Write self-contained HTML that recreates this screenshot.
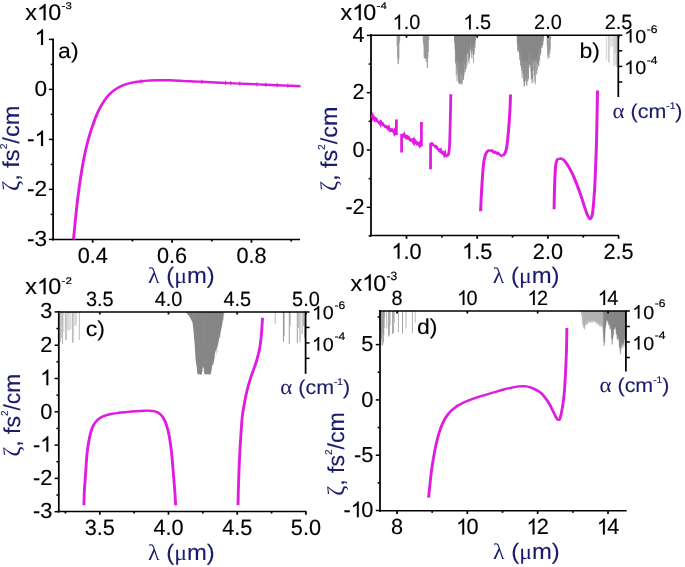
<!DOCTYPE html>
<html><head><meta charset="utf-8"><title>Figure</title>
<style>
html,body{margin:0;padding:0;background:#fff;}
body{width:685px;height:567px;overflow:hidden;font-family:"Liberation Sans",sans-serif;}
svg{display:block;opacity:0.999;will-change:transform;}
text{text-rendering:geometricPrecision;}
</style></head><body>
<svg width="685" height="567" viewBox="0 0 685 567">
<defs><filter id="soft" x="0" y="0" width="685" height="567" filterUnits="userSpaceOnUse"><feGaussianBlur stdDeviation="0.33"/></filter><linearGradient id="gd" gradientUnits="userSpaceOnUse" x1="581" x2="626.4" y1="0" y2="0"><stop offset="0" stop-color="#bcbcbc"/><stop offset="0.47" stop-color="#b2b2b2"/><stop offset="0.52" stop-color="#8c8c8c"/><stop offset="1" stop-color="#858585"/></linearGradient></defs>
<rect width="685" height="567" fill="#fff"/>
<g filter="url(#soft)">
<line x1="53.10" y1="38.40" x2="53.10" y2="240.50" stroke="#000" stroke-width="1.75"/>
<line x1="52.10" y1="239.50" x2="300.00" y2="239.50" stroke="#000" stroke-width="1.5"/>
<line x1="48.90" y1="39.40" x2="53.10" y2="39.40" stroke="#000" stroke-width="1.5"/>
<path transform="translate(34.59,44.90) scale(0.01107,-0.01064)" d="M763 0 H583 V1147 Q518 1085 412.5 1023 Q307 961 223 930 V1104 Q374 1175 487 1276 Q600 1377 647 1472 H763 Z" fill="#000" stroke="#000" stroke-width="14.1"/>
<line x1="48.90" y1="89.40" x2="53.10" y2="89.40" stroke="#000" stroke-width="1.5"/>
<text transform="translate(34.59,96.10) scale(1.04,1)" font-family="'Liberation Sans', sans-serif" font-size="21.8" fill="#000" stroke="#000" stroke-width="0.15">0</text>
<line x1="48.90" y1="139.40" x2="53.10" y2="139.40" stroke="#000" stroke-width="1.5"/>
<text transform="translate(27.04,146.10) scale(1.04,1)" font-family="'Liberation Sans', sans-serif" font-size="21.8" fill="#000" stroke="#000" stroke-width="0.15">-</text>
<path transform="translate(34.59,146.10) scale(0.01107,-0.01064)" d="M763 0 H583 V1147 Q518 1085 412.5 1023 Q307 961 223 930 V1104 Q374 1175 487 1276 Q600 1377 647 1472 H763 Z" fill="#000" stroke="#000" stroke-width="14.1"/>
<line x1="48.90" y1="189.40" x2="53.10" y2="189.40" stroke="#000" stroke-width="1.5"/>
<text transform="translate(27.04,196.10) scale(1.04,1)" font-family="'Liberation Sans', sans-serif" font-size="21.8" fill="#000" stroke="#000" stroke-width="0.15">-2</text>
<line x1="48.90" y1="239.40" x2="53.10" y2="239.40" stroke="#000" stroke-width="1.5"/>
<text transform="translate(27.04,246.10) scale(1.04,1)" font-family="'Liberation Sans', sans-serif" font-size="21.8" fill="#000" stroke="#000" stroke-width="0.15">-3</text>
<line x1="50.70" y1="64.40" x2="53.10" y2="64.40" stroke="#000" stroke-width="1.5"/>
<line x1="50.70" y1="114.40" x2="53.10" y2="114.40" stroke="#000" stroke-width="1.5"/>
<line x1="50.70" y1="164.40" x2="53.10" y2="164.40" stroke="#000" stroke-width="1.5"/>
<line x1="50.70" y1="214.40" x2="53.10" y2="214.40" stroke="#000" stroke-width="1.5"/>
<line x1="92.70" y1="239.50" x2="92.70" y2="242.70" stroke="#000" stroke-width="1.75"/>
<text transform="translate(77.64,262.50) scale(0.985,1)" font-family="'Liberation Sans', sans-serif" font-size="22.0" fill="#000" stroke="#000" stroke-width="0.15">0.4</text>
<line x1="172.10" y1="239.50" x2="172.10" y2="242.70" stroke="#000" stroke-width="1.75"/>
<text transform="translate(157.04,262.50) scale(0.985,1)" font-family="'Liberation Sans', sans-serif" font-size="22.0" fill="#000" stroke="#000" stroke-width="0.15">0.6</text>
<line x1="251.50" y1="239.50" x2="251.50" y2="242.70" stroke="#000" stroke-width="1.75"/>
<text transform="translate(236.44,262.50) scale(0.985,1)" font-family="'Liberation Sans', sans-serif" font-size="22.0" fill="#000" stroke="#000" stroke-width="0.15">0.8</text>
<line x1="132.40" y1="239.50" x2="132.40" y2="241.50" stroke="#000" stroke-width="1.75"/>
<line x1="211.80" y1="239.50" x2="211.80" y2="241.50" stroke="#000" stroke-width="1.75"/>
<line x1="291.20" y1="239.50" x2="291.20" y2="241.50" stroke="#000" stroke-width="1.75"/>
<text transform="translate(25.30,20.20) scale(1.03,1)" font-family="'Liberation Sans', sans-serif" font-size="22.6" fill="#000" stroke="#000" stroke-width="0.15">x</text>
<path transform="translate(36.94,20.20) scale(0.01137,-0.01104)" d="M763 0 H583 V1147 Q518 1085 412.5 1023 Q307 961 223 930 V1104 Q374 1175 487 1276 Q600 1377 647 1472 H763 Z" fill="#000" stroke="#000" stroke-width="13.6"/>
<text transform="translate(48.14,20.20) scale(1.03,1)" font-family="'Liberation Sans', sans-serif" font-size="22.6" fill="#000" stroke="#000" stroke-width="0.15">0</text>
<text transform="translate(61.60,9.20) scale(1.2,1)" font-family="'Liberation Sans', sans-serif" font-size="9.5" fill="#000" stroke="#000" stroke-width="0.2">-3</text>
<text transform="translate(58.10,57.50) scale(1.07,1)" font-family="'Liberation Sans', sans-serif" font-size="21.5" text-anchor="start" fill="#000" stroke="#000" stroke-width="0.12">a)</text>
<text transform="translate(18.80,191.00) rotate(-90) scale(1.026,1)" font-family="'Liberation Sans', sans-serif" font-size="23" text-anchor="start" fill="#1a1a6c" stroke="#1a1a6c" stroke-width="0.12"><tspan font-family="'Liberation Serif', serif" stroke="none" font-size="24">ζ</tspan>, fs<tspan font-size="10" dy="-12">2</tspan><tspan dy="12">/cm</tspan></text>
<text transform="translate(148.00,283.00) scale(1.06,1)" font-family="'Liberation Sans', sans-serif" font-size="22.5" text-anchor="start" fill="#1a1a6c" stroke="#1a1a6c" stroke-width="0.12"><tspan font-family="'Liberation Serif', serif" stroke="none">λ</tspan> (<tspan font-family="'Liberation Serif', serif" stroke="none">μ</tspan>m)</text>
<path transform="scale(1.2,1)" d="M61.25,239.3 C61.51,236.1 62.28,226.5 62.83,220.0 C63.39,213.5 63.86,207.4 64.58,200.3 C65.31,193.2 66.26,184.6 67.17,177.5 C68.07,170.4 68.99,164.0 70.00,157.9 C71.01,151.8 72.11,146.2 73.25,141.0 C74.39,135.8 75.68,131.1 76.83,126.9 C77.99,122.7 79.04,119.3 80.17,116.0 C81.29,112.7 82.39,110.0 83.58,107.3 C84.78,104.6 86.06,102.2 87.33,100.0 C88.61,97.8 89.79,96.1 91.25,94.3 C92.71,92.5 94.32,90.9 96.08,89.4 C97.85,88.0 99.65,86.7 101.83,85.6 C104.01,84.5 106.47,83.6 109.17,82.9 C111.86,82.2 115.36,81.6 118.00,81.2 C120.64,80.8 122.74,80.7 125.00,80.5 C127.26,80.3 128.81,80.2 131.58,80.2 C134.36,80.2 138.60,80.2 141.67,80.3 C144.74,80.4 147.22,80.6 150.00,80.8 C152.78,81.0 155.31,81.1 158.33,81.3 C161.36,81.5 164.00,81.6 168.17,81.8 C172.33,82.0 178.06,82.4 183.33,82.7 C188.61,83.0 194.56,83.3 199.83,83.6 C205.11,83.9 209.74,84.1 215.00,84.4 C220.26,84.7 226.97,85.0 231.42,85.2 C235.86,85.4 238.50,85.6 241.67,85.8 C244.83,86.0 248.96,86.1 250.42,86.2" fill="none" stroke="#DF1ADF" stroke-width="2.39" stroke-linejoin="round"/>
<line x1="141.00" y1="79.10" x2="141.00" y2="83.50" stroke="#DF1ADF" stroke-width="0.9"/>
<line x1="201.80" y1="79.60" x2="201.80" y2="84.00" stroke="#DF1ADF" stroke-width="0.9"/>
<line x1="225.50" y1="80.75" x2="225.50" y2="85.15" stroke="#DF1ADF" stroke-width="0.9"/>
<line x1="230.90" y1="81.00" x2="230.90" y2="85.40" stroke="#DF1ADF" stroke-width="0.9"/>
<line x1="239.80" y1="81.40" x2="239.80" y2="85.80" stroke="#DF1ADF" stroke-width="0.9"/>
<line x1="256.90" y1="82.15" x2="256.90" y2="86.55" stroke="#DF1ADF" stroke-width="0.9"/>
<line x1="265.80" y1="82.52" x2="265.80" y2="86.92" stroke="#DF1ADF" stroke-width="0.9"/>
<line x1="277.20" y1="82.98" x2="277.20" y2="87.38" stroke="#DF1ADF" stroke-width="0.9"/>
<line x1="287.80" y1="83.49" x2="287.80" y2="87.89" stroke="#DF1ADF" stroke-width="0.9"/>
<path d="M397.00,35.2V46.0M397.40,35.2V57.3M397.80,35.2V64.3M398.20,35.2V61.0M398.60,35.2V64.0M399.00,35.2V58.5M399.40,35.2V43.4M399.80,35.2V40.7" stroke="#878787" stroke-width="0.7" stroke-opacity="0.8" fill="none"/>
<path d="M423.20,35.2V42.4M423.60,35.2V45.4M424.00,35.2V56.9M424.40,35.2V58.8M424.80,35.2V57.9M425.20,35.2V58.1M425.60,35.2V59.1M426.00,35.2V61.7M426.40,35.2V58.3M426.80,35.2V62.1M427.20,35.2V68.0M427.60,35.2V67.8M428.00,35.2V57.7M428.40,35.2V52.1M428.80,35.2V40.5" stroke="#878787" stroke-width="0.7" stroke-opacity="0.85" fill="none"/>
<path d="M454.2,35.2 L454.2,35.6 L454.7,41.9 L455.2,48.0 L455.7,53.5 L456.2,57.4 L456.7,60.4 L457.2,60.8 L457.7,61.2 L458.2,61.6 L458.7,61.9 L459.2,62.1 L459.7,62.4 L460.2,62.6 L460.7,62.9 L461.2,62.8 L461.7,62.6 L462.2,62.3 L462.7,61.8 L463.2,60.4 L463.7,59.0 L464.2,57.7 L464.7,56.8 L465.2,56.1 L465.7,55.3 L466.2,54.4 L466.7,53.2 L467.2,51.3 L467.7,45.6 L468.2,45.2 L468.7,51.0 L469.2,50.4 L469.7,48.1 L470.2,43.3 L470.7,42.2 L471.2,46.8 L471.7,48.4 L472.2,46.1 L472.7,44.2 L473.2,49.2 L473.7,50.8 L474.2,47.2 L474.7,44.0 L475.2,40.9 L475.7,35.2Z" fill="#878787" fill-opacity="0.97"/>
<path d="M454.23,35.2V35.9M454.63,35.2V42.7M455.03,35.2V49.1M455.43,35.2V62.3M455.83,35.2V63.8M456.23,35.2V75.3M456.63,35.2V68.1M457.03,35.2V81.1M457.43,35.2V60.8M457.83,35.2V73.4M458.23,35.2V77.8M458.63,35.2V82.6M459.03,35.2V83.4M459.43,35.2V83.9M459.83,35.2V83.5M460.23,35.2V71.7M460.63,35.2V83.3M461.03,35.2V84.5M461.43,35.2V74.4M461.83,35.2V84.5M462.23,35.2V83.3M462.63,35.2V75.0M463.03,35.2V80.1M463.43,35.2V79.8M463.83,35.2V76.8M464.23,35.2V73.7M464.63,35.2V64.4M465.03,35.2V69.3M465.43,35.2V71.9M465.83,35.2V62.8M466.23,35.2V69.0M466.63,35.2V62.6M467.03,35.2V66.0M467.43,35.2V54.6M467.83,35.2V50.8M468.23,35.2V53.4M468.63,35.2V61.0M469.03,35.2V63.5M469.43,35.2V58.0M469.83,35.2V57.4M470.23,35.2V49.9M470.63,35.2V45.0M471.03,35.2V50.6M471.43,35.2V53.6M471.83,35.2V58.4M472.23,35.2V45.2M472.63,35.2V51.3M473.03,35.2V54.5M473.43,35.2V62.6M473.83,35.2V54.9M474.23,35.2V53.7M474.63,35.2V44.5M475.03,35.2V48.0M475.43,35.2V40.6" stroke="#878787" stroke-width="0.8" stroke-opacity="0.97" fill="none"/>
<path d="M516.8,35.2 L516.8,35.5 L517.3,40.9 L517.8,43.3 L518.3,44.2 L518.8,45.2 L519.3,47.1 L519.8,49.1 L520.3,51.1 L520.8,53.0 L521.3,54.7 L521.8,56.4 L522.3,57.5 L522.8,58.5 L523.3,59.6 L523.8,60.6 L524.3,61.0 L524.8,61.3 L525.3,61.6 L525.8,61.6 L526.3,61.3 L526.8,61.1 L527.3,60.8 L527.8,59.8 L528.3,57.9 L528.8,56.0 L529.3,53.6 L529.8,51.1 L530.3,53.5 L530.8,57.1 L531.3,58.5 L531.8,59.5 L532.3,60.3 L532.8,60.2 L533.3,60.0 L533.8,59.9 L534.3,59.8 L534.8,59.6 L535.3,59.8 L535.8,60.0 L536.3,60.2 L536.8,58.1 L537.3,55.1 L537.8,52.8 L538.3,51.9 L538.8,50.9 L539.3,49.5 L539.8,47.9 L540.3,46.3 L540.8,44.8 L541.3,43.5 L541.8,42.3 L542.3,41.3 L542.8,40.4 L543.3,39.0 L543.8,36.5 L544.0,35.2Z" fill="#878787" fill-opacity="0.97"/>
<path d="M516.85,35.2V35.9M517.25,35.2V43.5M517.65,35.2V49.9M518.05,35.2V52.0M518.45,35.2V50.2M518.85,35.2V51.5M519.25,35.2V53.5M519.65,35.2V60.0M520.05,35.2V57.2M520.45,35.2V65.4M520.85,35.2V62.3M521.25,35.2V68.1M521.65,35.2V71.0M522.05,35.2V78.3M522.45,35.2V66.8M522.85,35.2V73.4M523.25,35.2V74.7M523.65,35.2V81.2M524.05,35.2V86.1M524.45,35.2V86.8M524.85,35.2V82.5M525.25,35.2V79.0M525.65,35.2V80.9M526.05,35.2V63.1M526.45,35.2V85.1M526.85,35.2V85.8M527.25,35.2V73.4M527.65,35.2V81.7M528.05,35.2V80.4M528.45,35.2V78.8M528.85,35.2V68.0M529.25,35.2V63.8M529.65,35.2V64.7M530.05,35.2V67.2M530.45,35.2V64.7M530.85,35.2V71.3M531.25,35.2V79.7M531.65,35.2V79.0M532.05,35.2V83.2M532.45,35.2V78.2M532.85,35.2V82.7M533.25,35.2V70.4M533.65,35.2V62.3M534.05,35.2V55.8M534.45,35.2V75.8M534.85,35.2V81.8M535.25,35.2V84.4M535.65,35.2V60.1M536.05,35.2V74.0M536.45,35.2V62.4M536.85,35.2V74.5M537.25,35.2V70.3M537.65,35.2V63.6M538.05,35.2V64.0M538.45,35.2V65.2M538.85,35.2V66.7M539.25,35.2V59.4M539.65,35.2V60.9M540.05,35.2V55.3M540.45,35.2V53.8M540.85,35.2V53.1M541.25,35.2V48.0M541.65,35.2V46.3M542.05,35.2V48.2M542.45,35.2V45.3M542.85,35.2V44.9M543.25,35.2V41.7M543.65,35.2V38.6" stroke="#878787" stroke-width="0.8" stroke-opacity="0.97" fill="none"/>
<path d="M546.73,35.2V35.8M547.13,35.2V46.8M547.53,35.2V55.3M547.93,35.2V59.1M548.33,35.2V54.8M548.73,35.2V57.9M549.13,35.2V57.8M549.53,35.2V52.6M549.93,35.2V53.8M550.33,35.2V49.3M550.73,35.2V38.4" stroke="#878787" stroke-width="0.7" stroke-opacity="0.85" fill="none"/>
<line x1="606.30" y1="35.20" x2="606.30" y2="59.90" stroke="#666" stroke-width="0.7" stroke-opacity="0.42"/>
<line x1="608.40" y1="35.20" x2="608.40" y2="62.20" stroke="#666" stroke-width="0.7" stroke-opacity="0.48"/>
<line x1="609.40" y1="35.20" x2="609.40" y2="63.20" stroke="#666" stroke-width="0.7" stroke-opacity="0.37"/>
<line x1="610.40" y1="35.20" x2="610.40" y2="49.20" stroke="#666" stroke-width="0.7" stroke-opacity="0.26"/>
<line x1="611.40" y1="35.20" x2="611.40" y2="47.20" stroke="#666" stroke-width="0.7" stroke-opacity="0.26"/>
<line x1="612.40" y1="35.20" x2="612.40" y2="46.20" stroke="#666" stroke-width="0.7" stroke-opacity="0.26"/>
<line x1="613.30" y1="35.20" x2="613.30" y2="47.20" stroke="#666" stroke-width="0.7" stroke-opacity="0.26"/>
<line x1="614.00" y1="35.20" x2="614.00" y2="66.20" stroke="#666" stroke-width="0.7" stroke-opacity="0.54"/>
<line x1="615.10" y1="35.20" x2="615.10" y2="53.20" stroke="#666" stroke-width="0.7" stroke-opacity="0.37"/>
<line x1="615.90" y1="35.20" x2="615.90" y2="65.20" stroke="#666" stroke-width="0.7" stroke-opacity="0.48"/>
<line x1="616.70" y1="35.20" x2="616.70" y2="67.20" stroke="#666" stroke-width="0.7" stroke-opacity="0.51"/>
<line x1="371.00" y1="34.20" x2="371.00" y2="236.60" stroke="#000" stroke-width="1.75"/>
<line x1="370.00" y1="235.60" x2="619.00" y2="235.60" stroke="#000" stroke-width="1.5"/>
<line x1="370.00" y1="35.20" x2="619.20" y2="35.20" stroke="#000" stroke-width="1.5"/>
<line x1="618.30" y1="35.20" x2="618.30" y2="97.00" stroke="#000" stroke-width="1.75"/>
<line x1="366.80" y1="35.40" x2="371.00" y2="35.40" stroke="#000" stroke-width="1.5"/>
<text transform="translate(352.60,42.10) scale(0.99,1)" font-family="'Liberation Sans', sans-serif" font-size="21.8" fill="#000" stroke="#000" stroke-width="0.15">4</text>
<line x1="366.80" y1="92.70" x2="371.00" y2="92.70" stroke="#000" stroke-width="1.5"/>
<text transform="translate(352.60,99.40) scale(0.99,1)" font-family="'Liberation Sans', sans-serif" font-size="21.8" fill="#000" stroke="#000" stroke-width="0.15">2</text>
<line x1="366.80" y1="150.00" x2="371.00" y2="150.00" stroke="#000" stroke-width="1.5"/>
<text transform="translate(352.60,156.70) scale(0.99,1)" font-family="'Liberation Sans', sans-serif" font-size="21.8" fill="#000" stroke="#000" stroke-width="0.15">0</text>
<line x1="366.80" y1="207.30" x2="371.00" y2="207.30" stroke="#000" stroke-width="1.5"/>
<text transform="translate(345.41,214.00) scale(0.99,1)" font-family="'Liberation Sans', sans-serif" font-size="21.8" fill="#000" stroke="#000" stroke-width="0.15">-2</text>
<line x1="368.60" y1="64.05" x2="371.00" y2="64.05" stroke="#000" stroke-width="1.5"/>
<line x1="368.60" y1="121.35" x2="371.00" y2="121.35" stroke="#000" stroke-width="1.5"/>
<line x1="368.60" y1="178.65" x2="371.00" y2="178.65" stroke="#000" stroke-width="1.5"/>
<line x1="368.60" y1="235.95" x2="371.00" y2="235.95" stroke="#000" stroke-width="1.5"/>
<line x1="406.50" y1="235.60" x2="406.50" y2="238.80" stroke="#000" stroke-width="1.75"/>
<line x1="406.50" y1="35.20" x2="406.50" y2="37.70" stroke="#000" stroke-width="1.75"/>
<path transform="translate(391.44,258.70) scale(0.01058,-0.01074)" d="M763 0 H583 V1147 Q518 1085 412.5 1023 Q307 961 223 930 V1104 Q374 1175 487 1276 Q600 1377 647 1472 H763 Z" fill="#000" stroke="#000" stroke-width="14.0"/>
<text transform="translate(403.49,258.70) scale(0.985,1)" font-family="'Liberation Sans', sans-serif" font-size="22.0" fill="#000" stroke="#000" stroke-width="0.15">.0</text>
<path transform="translate(392.68,29.40) scale(0.00971,-0.01006)" d="M763 0 H583 V1147 Q518 1085 412.5 1023 Q307 961 223 930 V1104 Q374 1175 487 1276 Q600 1377 647 1472 H763 Z" fill="#000" stroke="#000" stroke-width="14.9"/>
<text transform="translate(403.74,29.40) scale(0.965,1)" font-family="'Liberation Sans', sans-serif" font-size="20.6" fill="#000" stroke="#000" stroke-width="0.15">.0</text>
<line x1="477.20" y1="235.60" x2="477.20" y2="238.80" stroke="#000" stroke-width="1.75"/>
<line x1="477.20" y1="35.20" x2="477.20" y2="37.70" stroke="#000" stroke-width="1.75"/>
<path transform="translate(462.14,258.70) scale(0.01058,-0.01074)" d="M763 0 H583 V1147 Q518 1085 412.5 1023 Q307 961 223 930 V1104 Q374 1175 487 1276 Q600 1377 647 1472 H763 Z" fill="#000" stroke="#000" stroke-width="14.0"/>
<text transform="translate(474.19,258.70) scale(0.985,1)" font-family="'Liberation Sans', sans-serif" font-size="22.0" fill="#000" stroke="#000" stroke-width="0.15">.5</text>
<path transform="translate(463.38,29.40) scale(0.00971,-0.01006)" d="M763 0 H583 V1147 Q518 1085 412.5 1023 Q307 961 223 930 V1104 Q374 1175 487 1276 Q600 1377 647 1472 H763 Z" fill="#000" stroke="#000" stroke-width="14.9"/>
<text transform="translate(474.44,29.40) scale(0.965,1)" font-family="'Liberation Sans', sans-serif" font-size="20.6" fill="#000" stroke="#000" stroke-width="0.15">.5</text>
<line x1="547.90" y1="235.60" x2="547.90" y2="238.80" stroke="#000" stroke-width="1.75"/>
<line x1="547.90" y1="35.20" x2="547.90" y2="37.70" stroke="#000" stroke-width="1.75"/>
<text transform="translate(532.84,258.70) scale(0.985,1)" font-family="'Liberation Sans', sans-serif" font-size="22.0" fill="#000" stroke="#000" stroke-width="0.15">2.0</text>
<text transform="translate(534.08,29.40) scale(0.965,1)" font-family="'Liberation Sans', sans-serif" font-size="20.6" fill="#000" stroke="#000" stroke-width="0.15">2.0</text>
<line x1="618.60" y1="235.60" x2="618.60" y2="238.80" stroke="#000" stroke-width="1.75"/>
<line x1="618.60" y1="35.20" x2="618.60" y2="37.70" stroke="#000" stroke-width="1.75"/>
<text transform="translate(603.54,258.70) scale(0.985,1)" font-family="'Liberation Sans', sans-serif" font-size="22.0" fill="#000" stroke="#000" stroke-width="0.15">2.5</text>
<text transform="translate(604.78,29.40) scale(0.965,1)" font-family="'Liberation Sans', sans-serif" font-size="20.6" fill="#000" stroke="#000" stroke-width="0.15">2.5</text>
<line x1="441.85" y1="235.60" x2="441.85" y2="237.60" stroke="#000" stroke-width="1.75"/>
<line x1="512.55" y1="235.60" x2="512.55" y2="237.60" stroke="#000" stroke-width="1.75"/>
<line x1="583.25" y1="235.60" x2="583.25" y2="237.60" stroke="#000" stroke-width="1.75"/>
<line x1="618.30" y1="35.20" x2="622.30" y2="35.20" stroke="#000" stroke-width="1.5"/>
<line x1="618.30" y1="50.80" x2="622.30" y2="50.80" stroke="#000" stroke-width="1.5"/>
<line x1="618.30" y1="66.40" x2="622.30" y2="66.40" stroke="#000" stroke-width="1.5"/>
<line x1="618.30" y1="82.00" x2="622.30" y2="82.00" stroke="#000" stroke-width="1.5"/>
<path transform="translate(624.15,42.60) scale(0.00964,-0.00918)" d="M763 0 H583 V1147 Q518 1085 412.5 1023 Q307 961 223 930 V1104 Q374 1175 487 1276 Q600 1377 647 1472 H763 Z" fill="#000" stroke="#000" stroke-width="16.3"/>
<text transform="translate(635.13,42.60) scale(1.05,1)" font-family="'Liberation Sans', sans-serif" font-size="18.8" fill="#000" stroke="#000" stroke-width="0.15">0</text>
<text transform="translate(646.75,32.60) scale(1.1,1)" font-family="'Liberation Sans', sans-serif" font-size="11" fill="#000" stroke="#000" stroke-width="0.2">-6</text>
<path transform="translate(624.15,74.00) scale(0.00964,-0.00918)" d="M763 0 H583 V1147 Q518 1085 412.5 1023 Q307 961 223 930 V1104 Q374 1175 487 1276 Q600 1377 647 1472 H763 Z" fill="#000" stroke="#000" stroke-width="16.3"/>
<text transform="translate(635.13,74.00) scale(1.05,1)" font-family="'Liberation Sans', sans-serif" font-size="18.8" fill="#000" stroke="#000" stroke-width="0.15">0</text>
<text transform="translate(646.75,64.00) scale(1.1,1)" font-family="'Liberation Sans', sans-serif" font-size="11" fill="#000" stroke="#000" stroke-width="0.2">-4</text>
<text transform="translate(612.60,118.00) scale(1.07,1)" font-family="'Liberation Sans', sans-serif" font-size="20" text-anchor="start" fill="#1a1a6c" stroke="#1a1a6c" stroke-width="0.12"><tspan font-family="'Liberation Serif', serif" font-size="21.5" stroke="none">α</tspan> (cm<tspan font-size="9.5" dy="-9.4" stroke-width="0.2">-1</tspan><tspan dy="9.4">)</tspan></text>
<text transform="translate(340.50,20.20) scale(1.03,1)" font-family="'Liberation Sans', sans-serif" font-size="22.6" fill="#000" stroke="#000" stroke-width="0.15">x</text>
<path transform="translate(352.14,20.20) scale(0.01137,-0.01104)" d="M763 0 H583 V1147 Q518 1085 412.5 1023 Q307 961 223 930 V1104 Q374 1175 487 1276 Q600 1377 647 1472 H763 Z" fill="#000" stroke="#000" stroke-width="13.6"/>
<text transform="translate(363.34,20.20) scale(1.03,1)" font-family="'Liberation Sans', sans-serif" font-size="22.6" fill="#000" stroke="#000" stroke-width="0.15">0</text>
<text transform="translate(376.60,8.80) scale(1.2,1)" font-family="'Liberation Sans', sans-serif" font-size="9.5" fill="#000" stroke="#000" stroke-width="0.2">-4</text>
<text transform="translate(579.40,58.40) scale(1.07,1)" font-family="'Liberation Sans', sans-serif" font-size="21.5" text-anchor="start" fill="#000" stroke="#000" stroke-width="0.12">b)</text>
<text transform="translate(337.00,191.10) rotate(-90) scale(1.015,1)" font-family="'Liberation Sans', sans-serif" font-size="23" text-anchor="start" fill="#1a1a6c" stroke="#1a1a6c" stroke-width="0.12"><tspan font-family="'Liberation Serif', serif" stroke="none" font-size="24">ζ</tspan>, fs<tspan font-size="10" dy="-12">2</tspan><tspan dy="12">/cm</tspan></text>
<text transform="translate(492.80,283.40) scale(1.06,1)" font-family="'Liberation Sans', sans-serif" font-size="22.5" text-anchor="start" fill="#1a1a6c" stroke="#1a1a6c" stroke-width="0.12"><tspan font-family="'Liberation Serif', serif" stroke="none">λ</tspan> (<tspan font-family="'Liberation Serif', serif" stroke="none">μ</tspan>m)</text>
<path transform="scale(1.2,1)" d="M310.00,117.6 L310.50,116.1 L311.00,118.4 L311.50,117.2 L312.00,118.0 L312.50,119.6 L313.00,118.4 L313.50,118.8 L314.00,120.2 L314.50,121.1 L315.00,121.8 L315.50,121.9 L316.00,122.9 L316.50,122.2 L317.00,123.8 L317.50,121.9 L318.00,122.7 L318.50,123.9 L319.00,123.7 L319.50,125.3 L320.00,125.5 L320.50,125.6 L321.00,126.8 L321.50,126.5 L322.00,126.3 L322.50,126.9 L323.00,128.5 L323.50,129.0 L324.00,127.7 L324.50,129.7 L325.00,130.5 L325.50,129.7 L326.00,130.3 L326.50,129.7 L327.00,131.0 L327.50,131.3 L328.00,132.0 L328.50,130.9 L329.00,133.8 L329.50,133.0 L330.00,133.1 L330.33,135.0 L330.33,119.5" fill="none" stroke="#DF1ADF" stroke-width="2.30" stroke-linejoin="miter"/>
<path transform="scale(1.2,1)" d="M334.67,152.6 L334.67,134.0 L334.83,135.0 L335.34,134.7 L335.84,134.9 L336.35,135.8 L336.85,134.5 L337.36,136.1 L337.87,136.1 L338.37,137.9 L338.88,138.2 L339.38,136.8 L339.89,137.7 L340.39,137.2 L340.90,138.3 L341.40,139.7 L341.91,140.3 L342.41,139.5 L342.92,139.5 L343.42,139.5 L343.93,141.0 L344.44,142.1 L344.94,140.4 L345.45,142.4 L345.95,140.8 L346.46,141.6 L346.96,142.1 L347.47,143.6 L347.97,143.0 L348.48,143.5 L348.98,144.5 L349.49,143.6 L349.99,145.5 L350.50,144.3 L351.17,146.5 L351.17,122.0" fill="none" stroke="#DF1ADF" stroke-width="2.30" stroke-linejoin="miter"/>
<path transform="scale(1.2,1)" d="M358.75,169.2 L358.83,144.0 L359.33,143.6 L359.83,143.4 L360.33,143.7 L360.83,145.0 L361.33,145.3 L361.83,145.5 L362.33,146.1 L362.83,146.9 L363.33,146.3 L363.83,146.9 L364.33,148.5 L364.83,149.0 L365.33,149.1 L365.83,150.4 L366.33,150.2 L366.83,151.3 L367.33,150.2 L367.83,151.9 L368.33,152.6 L368.83,153.3 L369.33,152.2 L369.83,152.6 L370.33,154.7 L370.83,153.3 L371.33,155.8 L371.83,156.0 L372.33,154.4" fill="none" stroke="#DF1ADF" stroke-width="2.30" stroke-linejoin="miter"/>
<path transform="scale(1.2,1)" d="M372.33,155.4 C372.53,155.3 373.14,156.2 373.50,155.0 C373.86,153.8 374.25,151.8 374.50,148.0 C374.75,144.2 374.85,138.0 375.00,132.0 C375.15,126.0 375.31,118.3 375.42,112.0 C375.53,105.7 375.62,97.2 375.67,94.3" fill="none" stroke="#DF1ADF" stroke-width="2.30" stroke-linejoin="round"/>
<path transform="scale(1.2,1)" d="M400.50,211.2 C400.58,209.0 400.82,202.2 401.00,198.0 C401.18,193.8 401.36,190.1 401.58,185.8 C401.81,181.5 402.07,176.0 402.33,172.0 C402.60,168.0 402.86,164.6 403.17,162.0 C403.47,159.4 403.81,157.8 404.17,156.2 C404.53,154.6 404.92,153.6 405.33,152.7 C405.75,151.8 406.19,151.2 406.67,150.8 C407.14,150.4 407.92,150.2 408.17,150.1" fill="none" stroke="#DF1ADF" stroke-width="2.48" stroke-linejoin="round"/>
<path transform="scale(1.2,1)" d="M408.17,149.7 L408.86,150.8 L409.56,150.5 L410.25,150.6 L410.94,152.0 L411.64,151.8 L412.33,152.7 L413.03,152.1 L413.72,152.9 L414.42,153.7 L415.11,153.1 L415.81,153.7 L416.50,154.8 L417.19,155.4 L417.89,155.9 L418.58,155.1" fill="none" stroke="#DF1ADF" stroke-width="2.30" stroke-linejoin="miter"/>
<path transform="scale(1.2,1)" d="M418.58,155.6 C418.85,155.4 419.69,155.2 420.17,154.5 C420.64,153.8 421.04,152.8 421.42,151.4 C421.79,150.0 422.12,148.2 422.42,146.0 C422.71,143.8 422.90,141.4 423.17,138.2 C423.43,135.0 423.74,131.0 424.00,127.0 C424.26,123.0 424.56,118.2 424.75,114.4 C424.94,110.6 425.06,107.3 425.17,104.0 C425.28,100.7 425.38,96.1 425.42,94.5" fill="none" stroke="#DF1ADF" stroke-width="2.48" stroke-linejoin="round"/>
<path transform="scale(1.2,1)" d="M461.75,209.3 C461.78,207.2 461.85,200.9 461.92,197.0 C461.99,193.1 462.06,189.6 462.17,185.8 C462.28,182.0 462.43,177.4 462.58,174.0 C462.74,170.6 462.83,167.5 463.08,165.2 C463.33,162.9 463.68,161.5 464.08,160.4 C464.49,159.3 465.26,158.7 465.50,158.4" fill="none" stroke="#DF1ADF" stroke-width="2.48" stroke-linejoin="round"/>
<path transform="scale(1.2,1)" d="M465.50,158.4 L466.15,158.8 L466.80,158.6 L467.45,158.9 L468.10,158.3 L468.75,158.2" fill="none" stroke="#DF1ADF" stroke-width="2.30" stroke-linejoin="miter"/>
<path transform="scale(1.2,1)" d="M468.75,158.8 C469.01,159.1 469.78,159.9 470.33,160.7 C470.89,161.4 471.33,162.0 472.08,163.3 C472.83,164.7 473.92,166.8 474.83,168.8 C475.75,170.8 476.65,172.8 477.58,175.2 C478.51,177.6 479.49,180.6 480.42,183.5 C481.35,186.4 482.33,189.6 483.17,192.4 C484.00,195.2 484.69,197.8 485.42,200.4 C486.14,203.1 486.85,206.0 487.50,208.3 C488.15,210.6 488.78,212.7 489.33,214.3 C489.89,215.9 490.43,217.2 490.83,218.0 C491.24,218.8 491.46,218.9 491.75,218.9 C492.04,218.9 492.31,218.7 492.58,218.1 C492.86,217.5 493.15,216.6 493.42,215.2 C493.68,213.8 493.92,212.3 494.17,209.6 C494.42,206.9 494.67,203.0 494.92,199.0 C495.17,195.0 495.43,191.1 495.67,185.8 C495.90,180.5 496.11,173.6 496.33,167.0 C496.56,160.4 496.81,154.3 497.00,146.1 C497.19,137.9 497.35,127.2 497.50,118.0 C497.65,108.8 497.85,95.2 497.92,90.6" fill="none" stroke="#DF1ADF" stroke-width="2.48" stroke-linejoin="round"/>
<line x1="60.60" y1="312.00" x2="60.60" y2="342.00" stroke="#666" stroke-width="0.7" stroke-opacity="0.65"/>
<line x1="61.60" y1="312.00" x2="61.60" y2="338.00" stroke="#666" stroke-width="0.7" stroke-opacity="0.51"/>
<line x1="62.60" y1="312.00" x2="62.60" y2="344.00" stroke="#666" stroke-width="0.7" stroke-opacity="0.65"/>
<line x1="63.80" y1="312.00" x2="63.80" y2="332.00" stroke="#666" stroke-width="0.7" stroke-opacity="0.37"/>
<line x1="65.60" y1="312.00" x2="65.60" y2="340.00" stroke="#666" stroke-width="0.7" stroke-opacity="0.61"/>
<line x1="66.60" y1="312.00" x2="66.60" y2="340.00" stroke="#666" stroke-width="0.7" stroke-opacity="0.48"/>
<line x1="67.60" y1="312.00" x2="67.60" y2="330.00" stroke="#666" stroke-width="0.7" stroke-opacity="0.37"/>
<line x1="68.80" y1="312.00" x2="68.80" y2="331.00" stroke="#666" stroke-width="0.7" stroke-opacity="0.42"/>
<line x1="70.00" y1="312.00" x2="70.00" y2="330.00" stroke="#666" stroke-width="0.7" stroke-opacity="0.37"/>
<line x1="71.00" y1="312.00" x2="71.00" y2="329.00" stroke="#666" stroke-width="0.7" stroke-opacity="0.34"/>
<line x1="72.60" y1="312.00" x2="72.60" y2="343.00" stroke="#666" stroke-width="0.7" stroke-opacity="0.71"/>
<line x1="73.60" y1="312.00" x2="73.60" y2="342.00" stroke="#666" stroke-width="0.7" stroke-opacity="0.37"/>
<line x1="74.60" y1="312.00" x2="74.60" y2="326.00" stroke="#666" stroke-width="0.7" stroke-opacity="0.37"/>
<line x1="75.60" y1="312.00" x2="75.60" y2="326.00" stroke="#666" stroke-width="0.7" stroke-opacity="0.34"/>
<line x1="76.60" y1="312.00" x2="76.60" y2="325.00" stroke="#666" stroke-width="0.7" stroke-opacity="0.34"/>
<line x1="79.30" y1="312.00" x2="79.30" y2="340.00" stroke="#666" stroke-width="0.7" stroke-opacity="0.65"/>
<path d="M185.7,312.3 L189.5,316.5 L192.5,322.5 L193.4,330.0 L194.7,345.0 L195.6,360.0 L196.8,367.0 L197.6,374.2 L201.8,374.2 L202.6,368.0 L203.2,366.0 L204.0,368.0 L204.8,374.2 L210.7,374.2 L212.0,366.0 L214.2,360.0 L215.0,352.4 L218.0,345.0 L219.4,337.5 L221.7,327.0 L223.2,315.0 L223.6,312.3Z" fill="#878787"/>
<path d="M210.70,312.0V345.9M211.15,312.0V360.6M211.60,312.0V358.2M212.05,312.0V366.0M212.50,312.0V346.2M212.95,312.0V342.2M213.40,312.0V365.1M213.85,312.0V357.0M214.30,312.0V359.2M214.75,312.0V352.9M215.20,312.0V332.3M215.65,312.0V344.6M216.10,312.0V354.6M216.55,312.0V341.5M217.00,312.0V351.7M217.45,312.0V330.1M217.90,312.0V334.3M218.35,312.0V337.9M218.80,312.0V337.9M219.25,312.0V336.7M219.70,312.0V327.2M220.15,312.0V337.9M220.60,312.0V329.5M221.05,312.0V327.0M221.50,312.0V324.4M221.95,312.0V325.6M222.40,312.0V322.4M222.85,312.0V320.5M223.30,312.0V320.0M223.75,312.0V316.5" stroke="#878787" stroke-width="0.6" stroke-opacity="0.7" fill="none"/>
<path d="M196.50,312.0V361.6M196.95,312.0V365.0M197.40,312.0V370.1M197.85,312.0V373.2M198.30,312.0V370.0M198.75,312.0V372.1M199.20,312.0V344.0M199.65,312.0V372.7M200.10,312.0V374.4M200.55,312.0V375.0M201.00,312.0V373.9M201.45,312.0V374.4M201.90,312.0V372.6M202.35,312.0V367.7M202.80,312.0V365.4M203.25,312.0V365.0M203.70,312.0V368.1M204.15,312.0V372.1M204.60,312.0V373.9M205.05,312.0V374.7M205.50,312.0V345.4M205.95,312.0V370.4M206.40,312.0V373.2M206.85,312.0V374.0M207.30,312.0V372.4M207.75,312.0V374.3M208.20,312.0V346.3M208.65,312.0V346.4M209.10,312.0V374.7M209.55,312.0V373.9M210.00,312.0V344.9M210.45,312.0V370.1M210.90,312.0V373.7M211.35,312.0V369.7" stroke="#878787" stroke-width="0.6" stroke-opacity="0.9" fill="none"/>
<line x1="275.20" y1="312.00" x2="275.20" y2="324.00" stroke="#666" stroke-width="0.7" stroke-opacity="0.68"/>
<line x1="283.40" y1="312.00" x2="283.40" y2="342.00" stroke="#666" stroke-width="0.7" stroke-opacity="0.94"/>
<line x1="284.20" y1="312.00" x2="284.20" y2="336.00" stroke="#666" stroke-width="0.7" stroke-opacity="0.77"/>
<line x1="289.30" y1="312.00" x2="289.30" y2="344.00" stroke="#666" stroke-width="0.7" stroke-opacity="0.94"/>
<line x1="290.40" y1="312.00" x2="290.40" y2="326.00" stroke="#666" stroke-width="0.7" stroke-opacity="0.59"/>
<line x1="297.30" y1="312.00" x2="297.30" y2="343.00" stroke="#666" stroke-width="0.7" stroke-opacity="0.94"/>
<line x1="298.60" y1="312.00" x2="298.60" y2="328.00" stroke="#666" stroke-width="0.7" stroke-opacity="0.68"/>
<line x1="300.00" y1="312.00" x2="300.00" y2="342.00" stroke="#666" stroke-width="0.7" stroke-opacity="0.85"/>
<line x1="302.20" y1="312.00" x2="302.20" y2="334.00" stroke="#666" stroke-width="0.7" stroke-opacity="0.77"/>
<line x1="303.50" y1="312.00" x2="303.50" y2="326.00" stroke="#666" stroke-width="0.7" stroke-opacity="0.68"/>
<line x1="304.70" y1="312.00" x2="304.70" y2="338.00" stroke="#666" stroke-width="0.7" stroke-opacity="0.85"/>
<line x1="58.80" y1="311.00" x2="58.80" y2="512.50" stroke="#000" stroke-width="1.75"/>
<line x1="57.80" y1="511.50" x2="306.30" y2="511.50" stroke="#000" stroke-width="1.5"/>
<line x1="57.80" y1="312.00" x2="306.50" y2="312.00" stroke="#000" stroke-width="1.5"/>
<line x1="305.60" y1="312.00" x2="305.60" y2="373.80" stroke="#000" stroke-width="1.75"/>
<line x1="54.60" y1="311.90" x2="58.80" y2="311.90" stroke="#000" stroke-width="1.5"/>
<text transform="translate(40.18,317.60) scale(1.0,1)" font-family="'Liberation Sans', sans-serif" font-size="21.8" fill="#000" stroke="#000" stroke-width="0.15">3</text>
<line x1="54.60" y1="345.20" x2="58.80" y2="345.20" stroke="#000" stroke-width="1.5"/>
<text transform="translate(40.18,351.90) scale(1.0,1)" font-family="'Liberation Sans', sans-serif" font-size="21.8" fill="#000" stroke="#000" stroke-width="0.15">2</text>
<line x1="54.60" y1="378.50" x2="58.80" y2="378.50" stroke="#000" stroke-width="1.5"/>
<path transform="translate(40.18,385.20) scale(0.01064,-0.01064)" d="M763 0 H583 V1147 Q518 1085 412.5 1023 Q307 961 223 930 V1104 Q374 1175 487 1276 Q600 1377 647 1472 H763 Z" fill="#000" stroke="#000" stroke-width="14.1"/>
<line x1="54.60" y1="411.80" x2="58.80" y2="411.80" stroke="#000" stroke-width="1.5"/>
<text transform="translate(40.18,418.50) scale(1.0,1)" font-family="'Liberation Sans', sans-serif" font-size="21.8" fill="#000" stroke="#000" stroke-width="0.15">0</text>
<line x1="54.60" y1="445.10" x2="58.80" y2="445.10" stroke="#000" stroke-width="1.5"/>
<text transform="translate(32.92,451.80) scale(1.0,1)" font-family="'Liberation Sans', sans-serif" font-size="21.8" fill="#000" stroke="#000" stroke-width="0.15">-</text>
<path transform="translate(40.18,451.80) scale(0.01064,-0.01064)" d="M763 0 H583 V1147 Q518 1085 412.5 1023 Q307 961 223 930 V1104 Q374 1175 487 1276 Q600 1377 647 1472 H763 Z" fill="#000" stroke="#000" stroke-width="14.1"/>
<line x1="54.60" y1="478.40" x2="58.80" y2="478.40" stroke="#000" stroke-width="1.5"/>
<text transform="translate(32.92,485.10) scale(1.0,1)" font-family="'Liberation Sans', sans-serif" font-size="21.8" fill="#000" stroke="#000" stroke-width="0.15">-2</text>
<line x1="54.60" y1="511.70" x2="58.80" y2="511.70" stroke="#000" stroke-width="1.5"/>
<text transform="translate(32.92,518.40) scale(1.0,1)" font-family="'Liberation Sans', sans-serif" font-size="21.8" fill="#000" stroke="#000" stroke-width="0.15">-3</text>
<line x1="56.40" y1="328.55" x2="58.80" y2="328.55" stroke="#000" stroke-width="1.5"/>
<line x1="56.40" y1="361.85" x2="58.80" y2="361.85" stroke="#000" stroke-width="1.5"/>
<line x1="56.40" y1="395.15" x2="58.80" y2="395.15" stroke="#000" stroke-width="1.5"/>
<line x1="56.40" y1="428.45" x2="58.80" y2="428.45" stroke="#000" stroke-width="1.5"/>
<line x1="56.40" y1="461.75" x2="58.80" y2="461.75" stroke="#000" stroke-width="1.5"/>
<line x1="56.40" y1="495.05" x2="58.80" y2="495.05" stroke="#000" stroke-width="1.5"/>
<line x1="99.80" y1="511.50" x2="99.80" y2="514.70" stroke="#000" stroke-width="1.75"/>
<line x1="99.80" y1="312.00" x2="99.80" y2="314.50" stroke="#000" stroke-width="1.75"/>
<text transform="translate(84.74,535.30) scale(0.985,1)" font-family="'Liberation Sans', sans-serif" font-size="22.0" fill="#000" stroke="#000" stroke-width="0.15">3.5</text>
<text transform="translate(85.98,305.60) scale(0.965,1)" font-family="'Liberation Sans', sans-serif" font-size="20.6" fill="#000" stroke="#000" stroke-width="0.15">3.5</text>
<line x1="168.50" y1="511.50" x2="168.50" y2="514.70" stroke="#000" stroke-width="1.75"/>
<line x1="168.50" y1="312.00" x2="168.50" y2="314.50" stroke="#000" stroke-width="1.75"/>
<text transform="translate(153.44,535.30) scale(0.985,1)" font-family="'Liberation Sans', sans-serif" font-size="22.0" fill="#000" stroke="#000" stroke-width="0.15">4.0</text>
<text transform="translate(154.68,305.60) scale(0.965,1)" font-family="'Liberation Sans', sans-serif" font-size="20.6" fill="#000" stroke="#000" stroke-width="0.15">4.0</text>
<line x1="237.20" y1="511.50" x2="237.20" y2="514.70" stroke="#000" stroke-width="1.75"/>
<line x1="237.20" y1="312.00" x2="237.20" y2="314.50" stroke="#000" stroke-width="1.75"/>
<text transform="translate(222.14,535.30) scale(0.985,1)" font-family="'Liberation Sans', sans-serif" font-size="22.0" fill="#000" stroke="#000" stroke-width="0.15">4.5</text>
<text transform="translate(223.38,305.60) scale(0.965,1)" font-family="'Liberation Sans', sans-serif" font-size="20.6" fill="#000" stroke="#000" stroke-width="0.15">4.5</text>
<line x1="305.90" y1="511.50" x2="305.90" y2="514.70" stroke="#000" stroke-width="1.75"/>
<line x1="305.90" y1="312.00" x2="305.90" y2="314.50" stroke="#000" stroke-width="1.75"/>
<text transform="translate(290.84,535.30) scale(0.985,1)" font-family="'Liberation Sans', sans-serif" font-size="22.0" fill="#000" stroke="#000" stroke-width="0.15">5.0</text>
<text transform="translate(292.08,305.60) scale(0.965,1)" font-family="'Liberation Sans', sans-serif" font-size="20.6" fill="#000" stroke="#000" stroke-width="0.15">5.0</text>
<line x1="65.45" y1="511.50" x2="65.45" y2="513.50" stroke="#000" stroke-width="1.75"/>
<line x1="134.15" y1="511.50" x2="134.15" y2="513.50" stroke="#000" stroke-width="1.75"/>
<line x1="202.85" y1="511.50" x2="202.85" y2="513.50" stroke="#000" stroke-width="1.75"/>
<line x1="271.55" y1="511.50" x2="271.55" y2="513.50" stroke="#000" stroke-width="1.75"/>
<line x1="305.60" y1="312.00" x2="309.60" y2="312.00" stroke="#000" stroke-width="1.5"/>
<line x1="305.60" y1="327.45" x2="309.60" y2="327.45" stroke="#000" stroke-width="1.5"/>
<line x1="305.60" y1="342.90" x2="309.60" y2="342.90" stroke="#000" stroke-width="1.5"/>
<line x1="305.60" y1="358.35" x2="309.60" y2="358.35" stroke="#000" stroke-width="1.5"/>
<path transform="translate(311.85,319.40) scale(0.00964,-0.00918)" d="M763 0 H583 V1147 Q518 1085 412.5 1023 Q307 961 223 930 V1104 Q374 1175 487 1276 Q600 1377 647 1472 H763 Z" fill="#000" stroke="#000" stroke-width="16.3"/>
<text transform="translate(322.83,319.40) scale(1.05,1)" font-family="'Liberation Sans', sans-serif" font-size="18.8" fill="#000" stroke="#000" stroke-width="0.15">0</text>
<text transform="translate(334.45,308.60) scale(1.1,1)" font-family="'Liberation Sans', sans-serif" font-size="11" fill="#000" stroke="#000" stroke-width="0.2">-6</text>
<path transform="translate(311.85,350.60) scale(0.00964,-0.00918)" d="M763 0 H583 V1147 Q518 1085 412.5 1023 Q307 961 223 930 V1104 Q374 1175 487 1276 Q600 1377 647 1472 H763 Z" fill="#000" stroke="#000" stroke-width="16.3"/>
<text transform="translate(322.83,350.60) scale(1.05,1)" font-family="'Liberation Sans', sans-serif" font-size="18.8" fill="#000" stroke="#000" stroke-width="0.15">0</text>
<text transform="translate(334.45,339.80) scale(1.1,1)" font-family="'Liberation Sans', sans-serif" font-size="11" fill="#000" stroke="#000" stroke-width="0.2">-4</text>
<text transform="translate(280.30,394.00) scale(1.07,1)" font-family="'Liberation Sans', sans-serif" font-size="20" text-anchor="start" fill="#1a1a6c" stroke="#1a1a6c" stroke-width="0.12"><tspan font-family="'Liberation Serif', serif" font-size="21.5" stroke="none">α</tspan> (cm<tspan font-size="9.5" dy="-9.4" stroke-width="0.2">-1</tspan><tspan dy="9.4">)</tspan></text>
<text transform="translate(25.30,294.20) scale(1.03,1)" font-family="'Liberation Sans', sans-serif" font-size="22.6" fill="#000" stroke="#000" stroke-width="0.15">x</text>
<path transform="translate(36.94,294.20) scale(0.01137,-0.01104)" d="M763 0 H583 V1147 Q518 1085 412.5 1023 Q307 961 223 930 V1104 Q374 1175 487 1276 Q600 1377 647 1472 H763 Z" fill="#000" stroke="#000" stroke-width="13.6"/>
<text transform="translate(48.14,294.20) scale(1.03,1)" font-family="'Liberation Sans', sans-serif" font-size="22.6" fill="#000" stroke="#000" stroke-width="0.15">0</text>
<text transform="translate(61.60,283.70) scale(1.2,1)" font-family="'Liberation Sans', sans-serif" font-size="9.5" fill="#000" stroke="#000" stroke-width="0.2">-2</text>
<text transform="translate(85.80,336.00) scale(1.07,1)" font-family="'Liberation Sans', sans-serif" font-size="21.5" text-anchor="start" fill="#000" stroke="#000" stroke-width="0.12">c)</text>
<text transform="translate(19.50,456.60) rotate(-90) scale(0.997,1)" font-family="'Liberation Sans', sans-serif" font-size="23" text-anchor="start" fill="#1a1a6c" stroke="#1a1a6c" stroke-width="0.12"><tspan font-family="'Liberation Serif', serif" stroke="none" font-size="24">ζ</tspan>, fs<tspan font-size="10" dy="-12">2</tspan><tspan dy="12">/cm</tspan></text>
<text transform="translate(148.00,559.70) scale(1.06,1)" font-family="'Liberation Sans', sans-serif" font-size="22.5" text-anchor="start" fill="#1a1a6c" stroke="#1a1a6c" stroke-width="0.12"><tspan font-family="'Liberation Serif', serif" stroke="none">λ</tspan> (<tspan font-family="'Liberation Serif', serif" stroke="none">μ</tspan>m)</text>
<path transform="scale(1.2,1)" d="M69.92,505.2 C69.99,502.7 70.15,494.3 70.33,490.0 C70.51,485.7 70.69,484.9 71.00,479.6 C71.31,474.4 71.83,463.6 72.17,458.5 C72.50,453.4 72.69,451.8 73.00,449.0 C73.31,446.2 73.64,443.9 74.00,441.5 C74.36,439.1 74.74,436.6 75.17,434.5 C75.60,432.4 76.07,430.5 76.58,428.8 C77.10,427.1 77.65,425.7 78.25,424.5 C78.85,423.3 79.46,422.4 80.17,421.4 C80.88,420.4 81.62,419.4 82.50,418.6 C83.38,417.8 84.38,417.2 85.42,416.6 C86.46,416.0 87.57,415.5 88.75,415.1 C89.93,414.7 90.76,414.4 92.50,414.0 C94.24,413.6 96.82,413.2 99.17,412.8 C101.51,412.4 104.22,412.2 106.58,411.9 C108.94,411.6 110.99,411.4 113.33,411.2 C115.68,411.0 118.79,410.8 120.67,410.7 C122.54,410.6 123.40,410.6 124.58,410.7 C125.76,410.8 126.82,410.9 127.75,411.1 C128.68,411.3 129.43,411.5 130.17,411.8 C130.90,412.1 131.53,412.5 132.17,413.0 C132.81,413.5 133.42,414.1 134.00,414.8 C134.58,415.5 135.15,416.3 135.67,417.2 C136.18,418.1 136.64,419.1 137.08,420.2 C137.53,421.3 137.90,422.1 138.33,423.6 C138.76,425.1 139.24,427.1 139.67,429.0 C140.10,430.9 140.56,433.0 140.92,435.2 C141.28,437.4 141.53,439.5 141.83,442.0 C142.14,444.5 142.47,447.1 142.75,450.0 C143.03,452.9 143.26,456.3 143.50,459.5 C143.74,462.7 143.96,466.0 144.17,469.0 C144.38,472.0 144.56,474.7 144.75,477.5 C144.94,480.3 145.14,482.9 145.33,486.0 C145.53,489.1 145.74,492.8 145.92,496.0 C146.10,499.2 146.33,503.8 146.42,505.4" fill="none" stroke="#DF1ADF" stroke-width="2.39" stroke-linejoin="round"/>
<path transform="scale(1.2,1)" d="M198.33,505.0 C198.40,501.7 198.58,491.6 198.75,485.0 C198.92,478.4 199.11,471.8 199.33,465.5 C199.56,459.2 199.81,452.9 200.08,447.0 C200.36,441.1 200.68,435.4 201.00,430.1 C201.32,424.9 201.56,420.0 202.00,415.5 C202.44,411.0 202.99,407.5 203.67,403.2 C204.35,398.9 205.14,394.1 206.08,389.6 C207.03,385.1 208.40,379.5 209.33,376.0 C210.26,372.5 210.99,370.8 211.67,368.5 C212.35,366.2 212.86,364.6 213.42,362.4 C213.97,360.2 214.51,357.8 215.00,355.5 C215.49,353.2 215.96,351.2 216.33,348.8 C216.71,346.4 216.99,343.6 217.25,341.0 C217.51,338.4 217.72,336.0 217.92,333.3 C218.11,330.6 218.28,327.6 218.42,325.0 C218.56,322.4 218.69,319.0 218.75,317.8" fill="none" stroke="#DF1ADF" stroke-width="2.39" stroke-linejoin="round"/>
<path d="M380.30,311.0V330.9M380.70,311.0V340.2M381.10,311.0V340.0M381.50,311.0V337.5M381.90,311.0V345.4M382.30,311.0V345.6M382.70,311.0V333.1M383.10,311.0V344.4M383.50,311.0V342.0M383.90,311.0V335.4M384.30,311.0V328.1M384.70,311.0V317.6" stroke="#878787" stroke-width="0.7" stroke-opacity="0.75" fill="none"/>
<line x1="386.70" y1="311.00" x2="386.70" y2="328.50" stroke="#666" stroke-width="0.7" stroke-opacity="0.68"/>
<line x1="388.60" y1="311.00" x2="388.60" y2="336.70" stroke="#666" stroke-width="0.7" stroke-opacity="0.85"/>
<line x1="389.40" y1="311.00" x2="389.40" y2="335.00" stroke="#666" stroke-width="0.7" stroke-opacity="0.77"/>
<line x1="390.30" y1="311.00" x2="390.30" y2="325.00" stroke="#666" stroke-width="0.7" stroke-opacity="0.51"/>
<line x1="392.60" y1="311.00" x2="392.60" y2="334.00" stroke="#666" stroke-width="0.7" stroke-opacity="0.85"/>
<line x1="393.60" y1="311.00" x2="393.60" y2="333.00" stroke="#666" stroke-width="0.7" stroke-opacity="0.77"/>
<line x1="394.40" y1="311.00" x2="394.40" y2="323.00" stroke="#666" stroke-width="0.7" stroke-opacity="0.51"/>
<line x1="398.40" y1="311.00" x2="398.40" y2="332.00" stroke="#666" stroke-width="0.7" stroke-opacity="0.77"/>
<line x1="402.50" y1="311.00" x2="402.50" y2="333.80" stroke="#666" stroke-width="0.7" stroke-opacity="0.85"/>
<line x1="406.00" y1="311.00" x2="406.00" y2="328.50" stroke="#666" stroke-width="0.7" stroke-opacity="0.68"/>
<line x1="412.40" y1="311.00" x2="412.40" y2="333.00" stroke="#666" stroke-width="0.7" stroke-opacity="0.77"/>
<line x1="415.30" y1="311.00" x2="415.30" y2="322.70" stroke="#666" stroke-width="0.7" stroke-opacity="0.59"/>
<path d="M581.3,311.0 L581.3,311.5 L582.7,322.8 L584.1,329.2 L585.2,325.1 L586.9,322.8 L589.8,321.1 L592.6,320.5 L595.4,321.1 L598.2,323.4 L601.0,325.1 L602.7,326.3 L603.6,341.3 L604.1,343.1 L604.9,336.7 L605.6,325.1 L606.7,319.3 L608.8,322.8 L610.9,328.6 L611.9,339.0 L612.6,340.2 L613.5,330.9 L615.1,326.3 L616.6,334.4 L618.0,336.7 L619.4,342.5 L620.5,350.6 L621.5,341.3 L622.9,345.9 L624.3,340.2 L625.7,336.7 L626.4,336.7 L626.4,311.0Z" fill="url(#gd)"/>
<path d="M581.29,311.0V311.4M581.71,311.0V314.4M582.13,311.0V318.1M582.55,311.0V323.5M582.97,311.0V326.7M583.39,311.0V324.6M583.81,311.0V327.2M584.23,311.0V329.4M584.65,311.0V329.5M585.07,311.0V328.2M585.49,311.0V324.9M585.91,311.0V325.1M586.33,311.0V324.3M586.75,311.0V323.5M587.17,311.0V322.4M587.59,311.0V324.6M588.01,311.0V324.1M588.43,311.0V320.4M588.85,311.0V320.6M589.27,311.0V320.5M589.69,311.0V323.3M590.11,311.0V323.1M590.53,311.0V322.6M590.95,311.0V322.0M591.37,311.0V321.1M591.79,311.0V322.7M592.21,311.0V321.3M592.63,311.0V322.5M593.05,311.0V322.6M593.47,311.0V320.8M593.89,311.0V321.4M594.31,311.0V321.2M594.73,311.0V322.3M595.15,311.0V322.0M595.57,311.0V323.1M595.99,311.0V323.1M596.41,311.0V321.7M596.83,311.0V321.6M597.25,311.0V325.0M597.67,311.0V325.4M598.09,311.0V322.7M598.51,311.0V324.1M598.93,311.0V323.5M599.35,311.0V326.5M599.77,311.0V325.9M600.19,311.0V326.9M600.61,311.0V324.2M601.03,311.0V327.1M601.45,311.0V325.8M601.87,311.0V323.6M602.29,311.0V328.2M602.71,311.0V327.3M603.13,311.0V332.9" stroke="#b4b4b4" stroke-width="0.7" stroke-opacity="0.8" fill="none"/>
<path d="M603.55,311.0V337.6M603.97,311.0V346.2M604.39,311.0V345.0M604.81,311.0V342.5M605.23,311.0V328.9M605.65,311.0V327.5M606.07,311.0V324.9M606.49,311.0V320.9M606.91,311.0V320.5M607.33,311.0V320.5M607.75,311.0V322.7M608.17,311.0V321.4M608.59,311.0V324.9M609.01,311.0V325.6M609.43,311.0V324.8M609.85,311.0V328.8M610.27,311.0V329.3M610.69,311.0V327.9M611.11,311.0V330.8M611.53,311.0V339.0M611.95,311.0V344.7M612.37,311.0V343.8M612.79,311.0V338.0M613.21,311.0V336.8M613.63,311.0V334.4M614.05,311.0V329.3M614.47,311.0V329.2M614.89,311.0V325.4M615.31,311.0V325.3M615.73,311.0V327.7M616.15,311.0V334.4M616.57,311.0V333.4M616.99,311.0V338.9M617.41,311.0V339.6M617.83,311.0V339.7M618.25,311.0V334.8M618.67,311.0V337.0M619.09,311.0V346.5M619.51,311.0V347.9M619.93,311.0V351.3M620.35,311.0V354.7M620.77,311.0V352.9M621.19,311.0V348.6M621.61,311.0V347.4M622.03,311.0V345.1M622.45,311.0V343.1M622.87,311.0V348.4M623.29,311.0V342.4M623.71,311.0V344.7M624.13,311.0V346.7M624.55,311.0V339.0M624.97,311.0V336.3M625.39,311.0V341.9M625.81,311.0V342.3" stroke="#878787" stroke-width="0.7" stroke-opacity="0.8" fill="none"/>
<line x1="380.00" y1="310.00" x2="380.00" y2="511.80" stroke="#000" stroke-width="1.75"/>
<line x1="379.00" y1="510.80" x2="626.60" y2="510.80" stroke="#000" stroke-width="1.5"/>
<line x1="379.00" y1="311.00" x2="626.80" y2="311.00" stroke="#000" stroke-width="1.5"/>
<line x1="625.90" y1="311.00" x2="625.90" y2="371.40" stroke="#000" stroke-width="1.75"/>
<line x1="375.80" y1="344.60" x2="380.00" y2="344.60" stroke="#000" stroke-width="1.5"/>
<text transform="translate(361.18,351.30) scale(1.0,1)" font-family="'Liberation Sans', sans-serif" font-size="21.8" fill="#000" stroke="#000" stroke-width="0.15">5</text>
<line x1="375.80" y1="399.90" x2="380.00" y2="399.90" stroke="#000" stroke-width="1.5"/>
<text transform="translate(361.18,406.60) scale(1.0,1)" font-family="'Liberation Sans', sans-serif" font-size="21.8" fill="#000" stroke="#000" stroke-width="0.15">0</text>
<line x1="375.80" y1="455.20" x2="380.00" y2="455.20" stroke="#000" stroke-width="1.5"/>
<text transform="translate(353.92,461.90) scale(1.0,1)" font-family="'Liberation Sans', sans-serif" font-size="21.8" fill="#000" stroke="#000" stroke-width="0.15">-5</text>
<line x1="375.80" y1="510.50" x2="380.00" y2="510.50" stroke="#000" stroke-width="1.5"/>
<text transform="translate(343.43,517.20) scale(1.0,1)" font-family="'Liberation Sans', sans-serif" font-size="21.8" fill="#000" stroke="#000" stroke-width="0.15">-</text>
<path transform="translate(350.69,517.20) scale(0.01064,-0.01064)" d="M763 0 H583 V1147 Q518 1085 412.5 1023 Q307 961 223 930 V1104 Q374 1175 487 1276 Q600 1377 647 1472 H763 Z" fill="#000" stroke="#000" stroke-width="14.1"/>
<text transform="translate(361.18,517.20) scale(1.0,1)" font-family="'Liberation Sans', sans-serif" font-size="21.8" fill="#000" stroke="#000" stroke-width="0.15">0</text>
<line x1="377.60" y1="316.95" x2="380.00" y2="316.95" stroke="#000" stroke-width="1.5"/>
<line x1="377.60" y1="372.25" x2="380.00" y2="372.25" stroke="#000" stroke-width="1.5"/>
<line x1="377.60" y1="427.55" x2="380.00" y2="427.55" stroke="#000" stroke-width="1.5"/>
<line x1="377.60" y1="482.85" x2="380.00" y2="482.85" stroke="#000" stroke-width="1.5"/>
<line x1="397.00" y1="510.80" x2="397.00" y2="514.00" stroke="#000" stroke-width="1.75"/>
<line x1="397.00" y1="311.00" x2="397.00" y2="313.50" stroke="#000" stroke-width="1.75"/>
<text transform="translate(390.98,534.40) scale(0.985,1)" font-family="'Liberation Sans', sans-serif" font-size="22.0" fill="#000" stroke="#000" stroke-width="0.15">8</text>
<text transform="translate(391.47,305.00) scale(0.965,1)" font-family="'Liberation Sans', sans-serif" font-size="20.6" fill="#000" stroke="#000" stroke-width="0.15">8</text>
<line x1="467.34" y1="510.80" x2="467.34" y2="514.00" stroke="#000" stroke-width="1.75"/>
<line x1="467.34" y1="311.00" x2="467.34" y2="313.50" stroke="#000" stroke-width="1.75"/>
<path transform="translate(456.10,534.40) scale(0.01058,-0.01074)" d="M763 0 H583 V1147 Q518 1085 412.5 1023 Q307 961 223 930 V1104 Q374 1175 487 1276 Q600 1377 647 1472 H763 Z" fill="#000" stroke="#000" stroke-width="14.0"/>
<text transform="translate(466.53,534.40) scale(0.985,1)" font-family="'Liberation Sans', sans-serif" font-size="22.0" fill="#000" stroke="#000" stroke-width="0.15">0</text>
<path transform="translate(457.03,305.00) scale(0.00971,-0.01006)" d="M763 0 H583 V1147 Q518 1085 412.5 1023 Q307 961 223 930 V1104 Q374 1175 487 1276 Q600 1377 647 1472 H763 Z" fill="#000" stroke="#000" stroke-width="14.9"/>
<text transform="translate(466.59,305.00) scale(0.965,1)" font-family="'Liberation Sans', sans-serif" font-size="20.6" fill="#000" stroke="#000" stroke-width="0.15">0</text>
<line x1="537.68" y1="510.80" x2="537.68" y2="514.00" stroke="#000" stroke-width="1.75"/>
<line x1="537.68" y1="311.00" x2="537.68" y2="313.50" stroke="#000" stroke-width="1.75"/>
<path transform="translate(526.44,534.40) scale(0.01058,-0.01074)" d="M763 0 H583 V1147 Q518 1085 412.5 1023 Q307 961 223 930 V1104 Q374 1175 487 1276 Q600 1377 647 1472 H763 Z" fill="#000" stroke="#000" stroke-width="14.0"/>
<text transform="translate(536.87,534.40) scale(0.985,1)" font-family="'Liberation Sans', sans-serif" font-size="22.0" fill="#000" stroke="#000" stroke-width="0.15">2</text>
<path transform="translate(527.37,305.00) scale(0.00971,-0.01006)" d="M763 0 H583 V1147 Q518 1085 412.5 1023 Q307 961 223 930 V1104 Q374 1175 487 1276 Q600 1377 647 1472 H763 Z" fill="#000" stroke="#000" stroke-width="14.9"/>
<text transform="translate(536.93,305.00) scale(0.965,1)" font-family="'Liberation Sans', sans-serif" font-size="20.6" fill="#000" stroke="#000" stroke-width="0.15">2</text>
<line x1="608.02" y1="510.80" x2="608.02" y2="514.00" stroke="#000" stroke-width="1.75"/>
<line x1="608.02" y1="311.00" x2="608.02" y2="313.50" stroke="#000" stroke-width="1.75"/>
<path transform="translate(596.78,534.40) scale(0.01058,-0.01074)" d="M763 0 H583 V1147 Q518 1085 412.5 1023 Q307 961 223 930 V1104 Q374 1175 487 1276 Q600 1377 647 1472 H763 Z" fill="#000" stroke="#000" stroke-width="14.0"/>
<text transform="translate(607.21,534.40) scale(0.985,1)" font-family="'Liberation Sans', sans-serif" font-size="22.0" fill="#000" stroke="#000" stroke-width="0.15">4</text>
<path transform="translate(597.71,305.00) scale(0.00971,-0.01006)" d="M763 0 H583 V1147 Q518 1085 412.5 1023 Q307 961 223 930 V1104 Q374 1175 487 1276 Q600 1377 647 1472 H763 Z" fill="#000" stroke="#000" stroke-width="14.9"/>
<text transform="translate(607.27,305.00) scale(0.965,1)" font-family="'Liberation Sans', sans-serif" font-size="20.6" fill="#000" stroke="#000" stroke-width="0.15">4</text>
<line x1="432.17" y1="510.80" x2="432.17" y2="512.80" stroke="#000" stroke-width="1.75"/>
<line x1="502.51" y1="510.80" x2="502.51" y2="512.80" stroke="#000" stroke-width="1.75"/>
<line x1="572.85" y1="510.80" x2="572.85" y2="512.80" stroke="#000" stroke-width="1.75"/>
<line x1="625.90" y1="311.00" x2="629.90" y2="311.00" stroke="#000" stroke-width="1.5"/>
<line x1="625.90" y1="326.50" x2="629.90" y2="326.50" stroke="#000" stroke-width="1.5"/>
<line x1="625.90" y1="342.00" x2="629.90" y2="342.00" stroke="#000" stroke-width="1.5"/>
<line x1="625.90" y1="357.50" x2="629.90" y2="357.50" stroke="#000" stroke-width="1.5"/>
<path transform="translate(632.15,318.60) scale(0.00964,-0.00918)" d="M763 0 H583 V1147 Q518 1085 412.5 1023 Q307 961 223 930 V1104 Q374 1175 487 1276 Q600 1377 647 1472 H763 Z" fill="#000" stroke="#000" stroke-width="16.3"/>
<text transform="translate(643.13,318.60) scale(1.05,1)" font-family="'Liberation Sans', sans-serif" font-size="18.8" fill="#000" stroke="#000" stroke-width="0.15">0</text>
<text transform="translate(654.75,307.40) scale(1.1,1)" font-family="'Liberation Sans', sans-serif" font-size="11" fill="#000" stroke="#000" stroke-width="0.2">-6</text>
<path transform="translate(632.15,349.60) scale(0.00964,-0.00918)" d="M763 0 H583 V1147 Q518 1085 412.5 1023 Q307 961 223 930 V1104 Q374 1175 487 1276 Q600 1377 647 1472 H763 Z" fill="#000" stroke="#000" stroke-width="16.3"/>
<text transform="translate(643.13,349.60) scale(1.05,1)" font-family="'Liberation Sans', sans-serif" font-size="18.8" fill="#000" stroke="#000" stroke-width="0.15">0</text>
<text transform="translate(654.75,338.60) scale(1.1,1)" font-family="'Liberation Sans', sans-serif" font-size="11" fill="#000" stroke="#000" stroke-width="0.2">-4</text>
<text transform="translate(599.50,392.00) scale(1.07,1)" font-family="'Liberation Sans', sans-serif" font-size="20" text-anchor="start" fill="#1a1a6c" stroke="#1a1a6c" stroke-width="0.12"><tspan font-family="'Liberation Serif', serif" font-size="21.5" stroke="none">α</tspan> (cm<tspan font-size="9.5" dy="-9.4" stroke-width="0.2">-1</tspan><tspan dy="9.4">)</tspan></text>
<text transform="translate(350.50,290.60) scale(1.03,1)" font-family="'Liberation Sans', sans-serif" font-size="22.6" fill="#000" stroke="#000" stroke-width="0.15">x</text>
<path transform="translate(362.14,290.60) scale(0.01137,-0.01104)" d="M763 0 H583 V1147 Q518 1085 412.5 1023 Q307 961 223 930 V1104 Q374 1175 487 1276 Q600 1377 647 1472 H763 Z" fill="#000" stroke="#000" stroke-width="13.6"/>
<text transform="translate(373.34,290.60) scale(1.03,1)" font-family="'Liberation Sans', sans-serif" font-size="22.6" fill="#000" stroke="#000" stroke-width="0.15">0</text>
<text transform="translate(386.40,279.80) scale(1.0,1)" font-family="'Liberation Sans', sans-serif" font-size="12" fill="#000" stroke="#000" stroke-width="0.2">-3</text>
<text transform="translate(417.00,334.20) scale(1.07,1)" font-family="'Liberation Sans', sans-serif" font-size="21.5" text-anchor="start" fill="#000" stroke="#000" stroke-width="0.12">d)</text>
<text transform="translate(344.40,495.80) rotate(-90) scale(1.003,1)" font-family="'Liberation Sans', sans-serif" font-size="23" text-anchor="start" fill="#1a1a6c" stroke="#1a1a6c" stroke-width="0.12"><tspan font-family="'Liberation Serif', serif" stroke="none" font-size="24">ζ</tspan>, fs<tspan font-size="10" dy="-12">2</tspan><tspan dy="12">/cm</tspan></text>
<text transform="translate(493.00,559.20) scale(1.06,1)" font-family="'Liberation Sans', sans-serif" font-size="22.5" text-anchor="start" fill="#1a1a6c" stroke="#1a1a6c" stroke-width="0.12"><tspan font-family="'Liberation Serif', serif" stroke="none">λ</tspan> (<tspan font-family="'Liberation Serif', serif" stroke="none">μ</tspan>m)</text>
<path transform="scale(1.2,1)" d="M357.17,497.7 C357.26,496.5 357.54,493.1 357.75,490.6 C357.96,488.2 358.11,486.3 358.42,483.0 C358.72,479.7 359.15,474.5 359.58,470.6 C360.01,466.7 360.51,463.2 361.00,459.7 C361.49,456.2 361.96,452.8 362.50,449.6 C363.04,446.4 363.58,443.5 364.25,440.3 C364.92,437.1 365.69,433.5 366.50,430.6 C367.31,427.7 368.15,425.2 369.08,422.8 C370.01,420.4 371.00,418.3 372.08,416.4 C373.17,414.5 374.36,412.7 375.58,411.2 C376.81,409.7 378.07,408.5 379.42,407.3 C380.76,406.1 382.18,405.2 383.67,404.2 C385.15,403.2 386.72,402.3 388.33,401.5 C389.94,400.7 391.25,400.1 393.33,399.2 C395.42,398.3 398.14,397.2 400.83,396.2 C403.53,395.2 407.00,393.9 409.50,393.0 C412.00,392.1 413.68,391.5 415.83,390.8 C417.99,390.1 420.47,389.3 422.42,388.7 C424.36,388.1 425.88,387.7 427.50,387.3 C429.12,386.9 430.85,386.6 432.17,386.4 C433.49,386.2 434.35,386.2 435.42,386.2 C436.49,386.2 437.50,386.2 438.58,386.4 C439.67,386.6 440.83,387.0 441.92,387.4 C443.00,387.8 444.01,388.3 445.08,388.9 C446.15,389.5 447.28,390.2 448.33,391.0 C449.39,391.8 450.38,392.4 451.42,393.6 C452.46,394.8 453.51,396.5 454.58,398.2 C455.65,400.0 456.86,402.1 457.83,404.1 C458.81,406.1 459.61,408.2 460.42,410.1 C461.22,412.0 462.04,414.2 462.67,415.6 C463.29,417.1 463.71,418.1 464.17,418.8 C464.62,419.5 465.01,419.9 465.42,419.9 C465.82,419.9 466.22,419.8 466.58,418.8 C466.94,417.8 467.28,415.6 467.58,414.0 C467.89,412.4 468.15,410.8 468.42,409.1 C468.68,407.4 468.92,405.7 469.17,403.6 C469.42,401.5 469.69,399.1 469.92,396.6 C470.14,394.1 470.32,391.6 470.50,388.6 C470.68,385.6 470.85,381.9 471.00,378.6 C471.15,375.4 471.29,372.3 471.42,369.1 C471.54,365.9 471.64,362.8 471.75,359.6 C471.86,356.4 472.00,353.2 472.08,349.7 C472.17,346.2 472.19,342.2 472.25,338.6 C472.31,335.0 472.39,329.8 472.42,328.0" fill="none" stroke="#DF1ADF" stroke-width="2.39" stroke-linejoin="round"/>
</g>
</svg>
</body></html>
